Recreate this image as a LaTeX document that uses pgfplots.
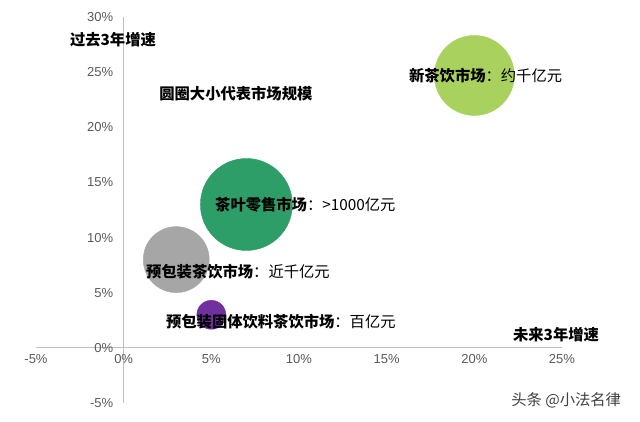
\documentclass[border=0pt]{standalone}
\usepackage{pgfplots}
\pgfplotsset{compat=1.18}
\usepackage{fontspec}
\setmainfont{Liberation Sans}
\newfontfamily\cjk{Noto Sans CJK SC}

\definecolor{newtea}{HTML}{A9D15E}
\definecolor{retail}{HTML}{2E9E68}
\definecolor{packed}{HTML}{A6A6A6}
\definecolor{solid}{HTML}{7030A0}
\definecolor{axisgray}{HTML}{BFBFBF}
\definecolor{ticktext}{HTML}{595959}

\tikzset{lbl/.style={font=\cjk\fontsize{15.3}{15.3}\selectfont, inner sep=0pt}}
\pgfplotsset{bubblebox/.style={
    scale only axis,
    width=526pt, height=386pt,
    xmin=-5, xmax=25,
    ymin=-5, ymax=30,
    clip=false,
}}

\begin{document}
\begin{tikzpicture}
\begin{axis}[
    bubblebox,
    axis lines=middle,
    axis line style={-, axisgray, line width=0.8pt},
    major tick length=0pt,
    hide obscured x ticks=false,
    hide obscured y ticks=false,
    xtick={-5,0,5,10,15,20,25},
    xticklabels={-5\%,0\%,5\%,10\%,15\%,20\%,25\%},
    ytick={-5,0,5,10,15,20,25,30},
    yticklabels={-5\%,0\%,5\%,10\%,15\%,20\%,25\%,30\%},
    ticklabel style={font=\fontsize{13}{13}\selectfont, text=ticktext},
    xticklabel style={yshift=-3pt},
    yticklabel style={xshift=-7pt},
]
% bubbles: radius in pt ~ market size
\addplot[only marks, mark=*, mark size=40pt, color=newtea] coordinates {(20,24.7)};
\addplot[only marks, mark=*, mark size=46pt, color=retail] coordinates {(7,13)};
\addplot[only marks, mark=*, mark size=33pt, color=packed] coordinates {(3,8)};
\addplot[only marks, mark=*, mark size=14.5pt, color=solid] coordinates {(5,3)};
\end{axis}
% same box again, only for the labels so they sit on top of the bubbles
\begin{axis}[bubblebox, hide axis]
\node[lbl, anchor=west] at (axis cs:16.27,24.65) {\textbf{新茶饮市场}：约千亿元};
\node[lbl, anchor=west] at (axis cs:5.21,12.96) {\textbf{茶叶零售市场}：>1000亿元};
\node[lbl, anchor=west] at (axis cs:1.27,6.88) {\textbf{预包装茶饮市场}：近千亿元};
\node[lbl, anchor=west] at (axis cs:2.41,2.35) {\textbf{预包装固体饮料茶饮市场}：百亿元};
\node[lbl] at (axis cs:-0.61,27.9) {\textbf{过去3年增速}};
\node[lbl] at (axis cs:6.4,23.1) {\textbf{圆圈大小代表市场规模}};
\node[lbl, anchor=west] at (axis cs:22.2,1.17) {\textbf{未来3年增速}};
\node[lbl, anchor=west, text=black!75] at (axis cs:22.1,-4.8) {头条 @小法名律};
\end{axis}
\path (-36pt,-18pt) rectangle (604pt,403pt);
\end{tikzpicture}
\end{document}
